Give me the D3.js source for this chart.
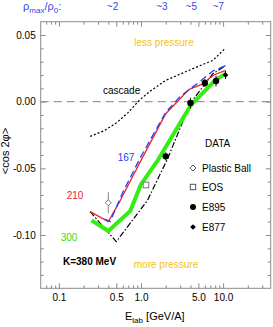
<!DOCTYPE html>
<html>
<head>
<meta charset="utf-8">
<script src="https://cdn.jsdelivr.net/npm/d3@7"></script>
<style>
  body { margin: 0; background: #fff; }
  svg { display: block; font-family: "Liberation Sans", Arial, sans-serif; }
</style>
</head>
<body>
<div id="chart"></div>
<script>
// ---- data ----
const xMajor = [0.1, 0.5, 1, 5, 10];
const xMajorLabels = ["0.1", "0.5", "1.0", "5.0", "10.0"];
const xMinor = [0.07, 0.08, 0.09, 0.2, 0.3, 0.4, 0.6, 0.7, 0.8, 0.9, 2, 3, 4, 6, 7, 8, 9, 20, 30];
const yMajor = [0.05, 0, -0.05, -0.10];
const yMajorLabels = ["0.05", "0.00", "-0.05", "-0.10"];
const yMinor = [-0.13, -0.12, -0.11, -0.09, -0.08, -0.07, -0.06, -0.04, -0.03, -0.02, -0.01, 0.01, 0.02, 0.03, 0.04];

const densityE = [0.45, 1.8, 4.1, 8.7];
const densityLabels = ["~2", "~3", "~5", "~7"];

// model curves [E_lab, <cos 2phi>]
const cascade = [[0.24, -0.026], [0.35, -0.022], [0.5, -0.016], [0.7, -0.008], [0.95, 0.001], [1.3, 0.008], [2.0, 0.016], [4.0, 0.024], [7.5, 0.031], [10.6, 0.040]];
const k210 = [[0.24, -0.0825], [0.40, -0.090], [0.56, -0.074], [1.0, -0.044], [2.0, -0.009], [3.8, 0.009], [5.5, 0.013], [7.7, 0.020], [10.7, 0.0235]];
const k167 = [[0.36, -0.088], [0.42, -0.090], [0.6, -0.068], [1.0, -0.041], [2.0, -0.008], [3.0, 0.004], [5.2, 0.015], [7.5, 0.023], [10.7, 0.027]];
const k300 = [[0.25, -0.089], [0.40, -0.097], [0.74, -0.082], [1.0, -0.062], [1.6, -0.044], [4.0, -0.003], [8.0, 0.016], [10.7, 0.021]];
const k380 = [[0.24, -0.0825], [0.5, -0.105], [1.2, -0.074], [2.1, -0.043], [4.0, -0.001], [7.5, 0.021], [10.7, 0.027]];

// data points [E_lab, value, error]
const plasticBall = [[0.40, -0.0758, 0.008]];
const eos = [[1.15, -0.0625, 0]];
const e895 = [[2.0, -0.041, 0.003], [4.0, -0.001, 0.004], [6.0, 0.014, 0.003], [8.2, 0.0155, 0.004]];
const e877 = [[10.7, 0.020, 0.003]];

const W = 273, H = 327;
const plot = {left: 40.7, right: 270.7, top: 21.7, bottom: 288.3};

const svg = d3.select("#chart").append("svg")
  .attr("width", W).attr("height", H);

const x = d3.scaleLog().domain([0.06, 38]).range([plot.left, plot.right]);
const y = d3.scaleLinear().domain([-0.14, 0.06]).range([plot.bottom, plot.top]);

const axisColor = "#8a8a8a";

// axes (ticks point inward)
function styleAxis(g) {
  g.select(".domain").remove();
  g.selectAll(".tick line").attr("stroke", axisColor);
  g.selectAll(".tick text").attr("fill", "#000").style("font-size", "10px");
}

svg.append("g").attr("transform", `translate(0,${plot.bottom})`)
  .call(d3.axisBottom(x).tickValues(xMajor).tickSize(-5).tickPadding(6)
    .tickFormat((d, i) => xMajorLabels[i]))
  .call(styleAxis);
svg.append("g").attr("transform", `translate(0,${plot.bottom})`)
  .call(d3.axisBottom(x).tickValues(xMinor).tickSize(-3).tickFormat(""))
  .call(styleAxis);
svg.append("g").attr("transform", `translate(0,${plot.top})`)
  .call(d3.axisTop(x).tickValues(xMajor).tickSize(-5).tickFormat(""))
  .call(styleAxis);
svg.append("g").attr("transform", `translate(0,${plot.top})`)
  .call(d3.axisTop(x).tickValues(xMinor).tickSize(-3).tickFormat(""))
  .call(styleAxis);

svg.append("g").attr("transform", `translate(${plot.left},0)`)
  .call(d3.axisLeft(y).tickValues(yMajor).tickSize(-5).tickPadding(5)
    .tickFormat((d, i) => yMajorLabels[i]))
  .call(styleAxis);
svg.append("g").attr("transform", `translate(${plot.left},0)`)
  .call(d3.axisLeft(y).tickValues(yMinor).tickSize(-3).tickFormat(""))
  .call(styleAxis);
svg.append("g").attr("transform", `translate(${plot.right},0)`)
  .call(d3.axisRight(y).tickValues(yMajor).tickSize(-5).tickFormat(""))
  .call(styleAxis);
svg.append("g").attr("transform", `translate(${plot.right},0)`)
  .call(d3.axisRight(y).tickValues(yMinor).tickSize(-3).tickFormat(""))
  .call(styleAxis);

// frame
svg.append("rect")
  .attr("x", plot.left).attr("y", plot.top)
  .attr("width", plot.right - plot.left).attr("height", plot.bottom - plot.top)
  .attr("fill", "none").attr("stroke", axisColor).attr("stroke-width", 1);

// zero line
svg.append("line")
  .attr("x1", plot.left).attr("x2", plot.right)
  .attr("y1", y(0)).attr("y2", y(0))
  .attr("stroke", "#9a9a9a").attr("stroke-width", 1.2)
  .attr("stroke-dasharray", "8,5");

// curves
const line = d3.line().x(d => x(d[0])).y(d => y(d[1]));
function curve(data, color, width, dash) {
  svg.append("path").datum(data)
    .attr("d", line)
    .attr("fill", "none")
    .attr("stroke", color)
    .attr("stroke-width", width)
    .attr("stroke-dasharray", dash)
    .attr("stroke-linejoin", "round");
}
curve(cascade, "#000", 1.2, "2,2");
curve(k380, "#000", 1.2, "6,2,1.5,2");
curve(k300, "#33ee11", 4, null);
curve(k210, "#ee2233", 1.3, null);
curve(k167, "#2244ee", 1.3, "7,4");

// error bars
function errBars(data, color) {
  svg.selectAll(null).data(data.filter(d => d[2] > 0)).enter().append("line")
    .attr("x1", d => x(d[0])).attr("x2", d => x(d[0]))
    .attr("y1", d => y(d[1] - d[2])).attr("y2", d => y(d[1] + d[2]))
    .attr("stroke", color).attr("stroke-width", 1);
}
errBars(plasticBall, "#888");
errBars(e895, "#000");
errBars(e877, "#000");

const diamond = (cx, cy, r) => `M${cx},${cy - r}L${cx + r},${cy}L${cx},${cy + r}L${cx - r},${cy}Z`;

svg.selectAll(null).data(plasticBall).enter().append("path")
  .attr("d", d => diamond(x(d[0]), y(d[1]), 3))
  .attr("fill", "#fff").attr("stroke", "#777").attr("stroke-width", 1);
svg.selectAll(null).data(eos).enter().append("rect")
  .attr("x", d => x(d[0]) - 2.8).attr("y", d => y(d[1]) - 2.8)
  .attr("width", 5.6).attr("height", 5.6)
  .attr("fill", "#fff").attr("stroke", "#777").attr("stroke-width", 1);
svg.selectAll(null).data(e895).enter().append("circle")
  .attr("cx", d => x(d[0])).attr("cy", d => y(d[1])).attr("r", 3.2)
  .attr("fill", "#000");
svg.selectAll(null).data(e877).enter().append("path")
  .attr("d", d => diamond(x(d[0]), y(d[1]), 2.8))
  .attr("fill", "#000");

// legend
const legend = svg.append("g").style("font-size", "10px");
legend.append("text").attr("x", 205).attr("y", 147).text("DATA");
const legRows = [
  {label: "Plastic Ball", y: 168},
  {label: "EOS", y: 187},
  {label: "E895", y: 207},
  {label: "E877", y: 227}
];
legRows.forEach(r => legend.append("text").attr("x", 202).attr("y", r.y + 3.5).text(r.label));
legend.append("path").attr("d", diamond(193, 168, 3)).attr("fill", "#fff").attr("stroke", "#555");
legend.append("rect").attr("x", 190.3).attr("y", 184.3).attr("width", 5.4).attr("height", 5.4)
  .attr("fill", "#fff").attr("stroke", "#555");
legend.append("circle").attr("cx", 193).attr("cy", 207).attr("r", 3).attr("fill", "#000");
legend.append("path").attr("d", diamond(193, 227, 2.8)).attr("fill", "#000");

// annotations
const gold = "#f2c311";
svg.append("text").attr("x", 164).attr("y", 46).attr("text-anchor", "middle")
  .style("font-size", "10px").attr("fill", gold).text("less pressure");
svg.append("text").attr("x", 166).attr("y", 268).attr("text-anchor", "middle")
  .style("font-size", "10px").attr("fill", gold).text("more pressure");
svg.append("text").attr("x", 103).attr("y", 94)
  .style("font-size", "10px").attr("fill", "#000").text("cascade");
svg.append("text").attr("x", 126).attr("y", 161).attr("text-anchor", "middle")
  .style("font-size", "10px").attr("fill", "#2244ee").text("167");
svg.append("text").attr("x", 75).attr("y", 199).attr("text-anchor", "middle")
  .style("font-size", "10px").attr("fill", "#ee2233").text("210");
svg.append("text").attr("x", 69).attr("y", 241).attr("text-anchor", "middle")
  .style("font-size", "10px").attr("fill", "#33dd11").text("300");
svg.append("text").attr("x", 63).attr("y", 265)
  .style("font-size", "10px").style("font-weight", "bold").attr("fill", "#000").text("K=380 MeV");

// density labels above the plot
const blue = "#3347e6";
const rho = svg.append("text").attr("x", 23).attr("y", 10)
  .style("font-size", "11px").attr("fill", blue);
rho.append("tspan").text("ρ");
rho.append("tspan").attr("dy", 3).style("font-size", "8px").text("max");
rho.append("tspan").attr("dy", -3).text("/ρ");
rho.append("tspan").attr("dy", 3).style("font-size", "8px").text("0");
rho.append("tspan").attr("dy", -3).text(":");
svg.selectAll(null).data(densityE).enter().append("text")
  .attr("x", d => x(d)).attr("y", 10).attr("text-anchor", "middle")
  .style("font-size", "10px").attr("fill", blue)
  .text((d, i) => densityLabels[i]);

// axis titles
svg.append("text")
  .attr("transform", "translate(9,151) rotate(-90)")
  .attr("text-anchor", "middle")
  .style("font-size", "11px").attr("fill", "#000")
  .text("<cos 2φ>");
const xt = svg.append("text").attr("x", 125).attr("y", 320)
  .style("font-size", "11px").attr("fill", "#000");
xt.append("tspan").text("E");
xt.append("tspan").attr("dy", 3).style("font-size", "8px").text("lab");
xt.append("tspan").attr("dy", -3).text(" [GeV/A]");
</script>
</body>
</html>
